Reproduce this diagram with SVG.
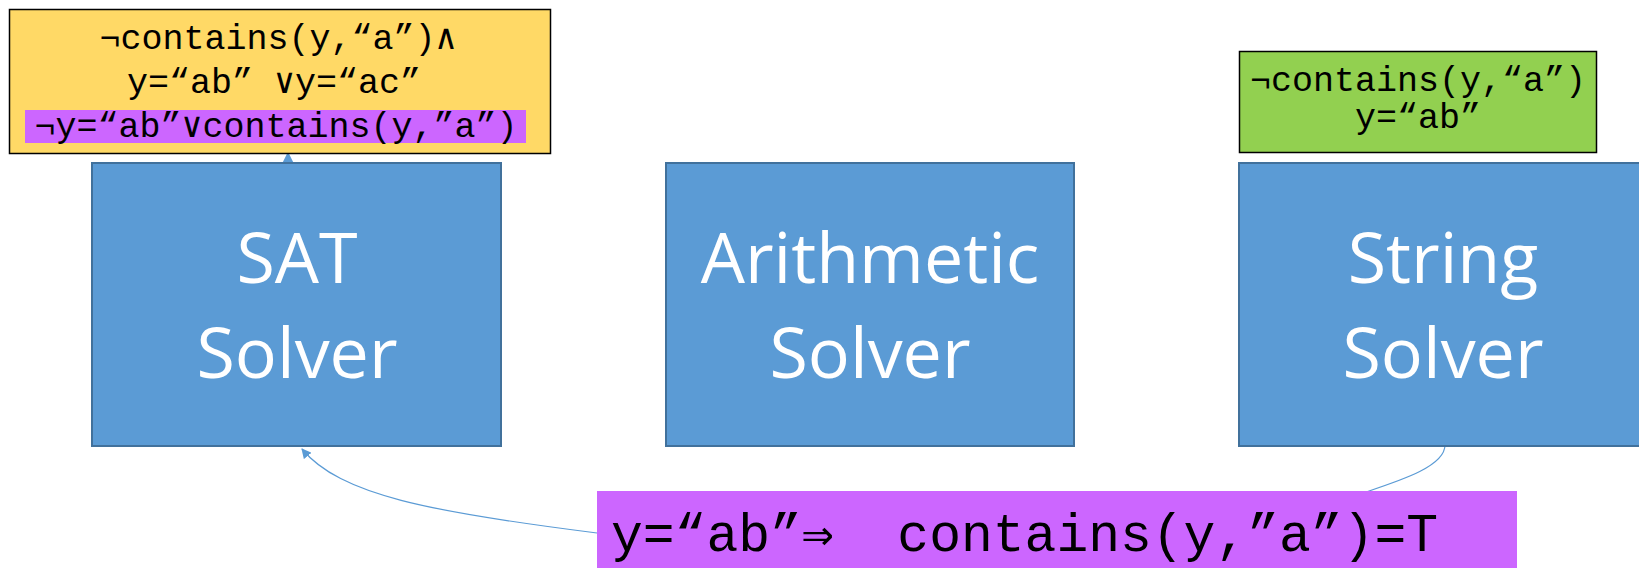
<svg xmlns="http://www.w3.org/2000/svg" width="1639" height="568" viewBox="0 0 1639 568">
<style>
.solver{fill:#5B9BD5;stroke:#41719C;stroke-width:2}
.stxt{font-family:"Open Sans","Liberation Sans",sans-serif;font-size:70px;fill:#fff;text-anchor:middle}
.mono{font-family:"Liberation Mono","DejaVu Sans Mono",monospace;fill:#000;text-anchor:middle}
.note{stroke:#000;stroke-width:1.5}
.conn{fill:none;stroke:#5B9BD5;stroke-width:1.2}
</style>
<defs>
<marker id="arr" viewBox="0 0 10 10" refX="9" refY="5" markerWidth="10" markerHeight="10" markerUnits="userSpaceOnUse" orient="auto">
<path d="M0,0 L10,5 L0,10 z" fill="#5B9BD5"/>
</marker>
<marker id="arrBig" viewBox="0 0 10 10" refX="9" refY="5" markerWidth="12" markerHeight="14" markerUnits="userSpaceOnUse" orient="auto">
<path d="M0,0 L10,5 L0,10 z" fill="#5B9BD5"/>
</marker>
</defs>
<rect width="1639" height="568" fill="#fff"/>
<g id="connectors">
<path class="conn" d="M288,300 L288,153" marker-end="url(#arrBig)"/>
<path class="conn" d="M597,533 C430,512 340,495 302,449" marker-end="url(#arr)"/>
<path class="conn" d="M1445,445 C1445,466 1402,480 1366,492"/>
</g>
<g id="sat-solver">
<rect class="solver" x="92" y="163" width="409" height="283"/>
<text class="stxt" x="297" y="283">SAT</text>
<text class="stxt" x="297" y="378">Solver</text>
</g>
<g id="arithmetic-solver">
<rect class="solver" x="666" y="163" width="408" height="283"/>
<text class="stxt" x="870" y="283">Arithmetic</text>
<text class="stxt" x="870" y="378">Solver</text>
</g>
<g id="string-solver">
<rect class="solver" x="1239" y="163" width="408" height="283"/>
<text class="stxt" x="1443" y="283">String</text>
<text class="stxt" x="1443" y="378">Solver</text>
</g>
<g id="sat-clauses">
<rect class="note" x="9.5" y="9.5" width="541" height="144" fill="#FFD966"/>
<rect x="25" y="110" width="501" height="33" fill="#CC66FF"/>
<text class="mono" x="278" y="49" font-size="35">¬contains(y,“a”)∧</text>
<text class="mono" x="274" y="93" font-size="35">y=“ab” ∨y=“ac”</text>
<text class="mono" x="276" y="137" font-size="35">¬y=“ab”∨contains(y,”a”)</text>
</g>
<g id="string-facts">
<rect class="note" x="1239.5" y="51.5" width="357" height="101" fill="#92D050"/>
<text class="mono" x="1418" y="91" font-size="35">¬contains(y,“a”)</text>
<text class="mono" x="1418" y="128" font-size="35">y=“ab”</text>
</g>
<g id="lemma">
<rect x="597" y="491" width="920" height="77" fill="#CC66FF"/>
<text x="611" y="551" xml:space="preserve" style="white-space:pre" font-family="Liberation Mono, DejaVu Sans Mono, monospace" font-size="53" fill="#000">y=“ab”⇒  contains(y,”a”)=T</text>
</g>
</svg>
